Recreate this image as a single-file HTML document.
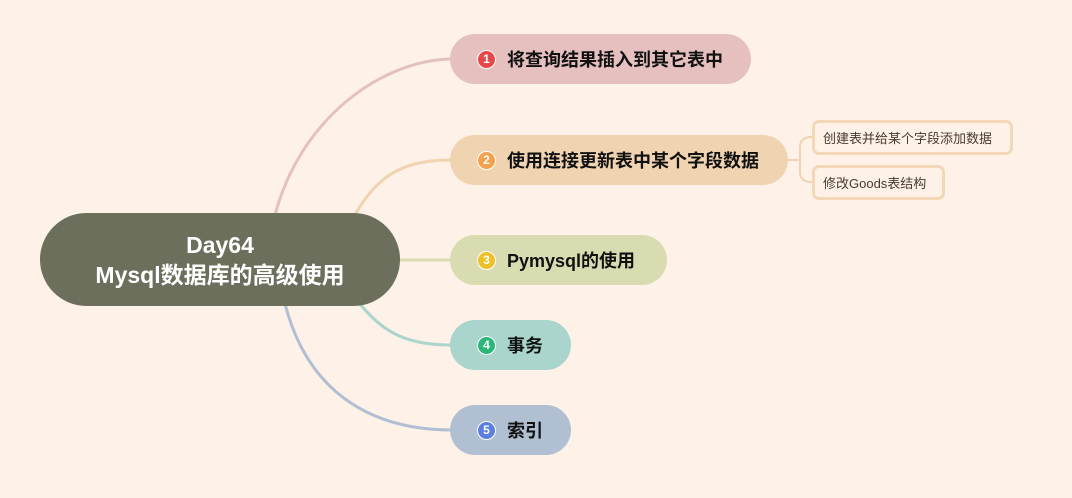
<!DOCTYPE html>
<html><head><meta charset="utf-8"><style>
body{margin:0;width:1072px;height:498px;background:#fdf1e8;position:relative;overflow:hidden;font-family:"Liberation Sans","Noto Sans CJK SC",sans-serif}
.n{position:absolute;height:50px;border-radius:25px;display:flex;align-items:center;font-weight:bold;font-size:18px;color:#111;box-sizing:border-box;padding-left:27px}
.i{width:17px;height:17px;border-radius:50%;border:1.5px solid #fff;color:#fff;font-size:12px;display:flex;align-items:center;justify-content:center;margin-right:11px;box-sizing:content-box}
.s{position:absolute;height:35px;border:3px solid #f3d8b8;border-radius:7px;box-sizing:border-box;font-size:13px;color:#4a3a2a;display:flex;align-items:center;padding-left:8px;background:#fdf1e8}
</style></head><body>
<svg width="1072" height="498" style="position:absolute;left:0;top:0" fill="none" stroke-width="3">
<path d="M275 215 C300 120,380 60,452 59" stroke="#e6c0bf"/>
<path d="M355 215 C380 170,410 160,452 160" stroke="#f0d3b0"/>
<path d="M398 260 L452 260" stroke="#d8dcb0"/>
<path d="M360 304 C385 335,410 345,452 345" stroke="#a9d5cc"/>
<path d="M285 304 C310 400,380 430,452 430" stroke="#b0bfd1"/>
<path d="M786 160 L800 160 M800 147 Q800 137 812 137 M800 147 L800 172 Q800 182 812 182" stroke="#f0d3b0" stroke-width="2"/>
</svg>
<div style="position:absolute;left:40px;top:213px;width:360px;height:93px;border-radius:47px;background:#6b6f5b;color:#fff;font-weight:bold;font-size:23px;text-align:center;line-height:30px;display:flex;flex-direction:column;justify-content:center">Day64<br>Mysql数据库的高级使用</div>
<div class="n" style="left:450px;top:34px;width:301px;background:#e6c0bf"><span class="i" style="background:#e8474a">1</span>将查询结果插入到其它表中</div>
<div class="n" style="left:450px;top:135px;width:338px;background:#f0d3b0"><span class="i" style="background:#f5a04a">2</span>使用连接更新表中某个字段数据</div>
<div class="n" style="left:450px;top:235px;width:217px;background:#d8dcb0"><span class="i" style="background:#eec12a">3</span>Pymysql的使用</div>
<div class="n" style="left:450px;top:320px;width:121px;background:#a9d5cc"><span class="i" style="background:#2bb67a">4</span>事务</div>
<div class="n" style="left:450px;top:405px;width:121px;background:#b0bfd1"><span class="i" style="background:#5b7fe0">5</span>索引</div>
<div class="s" style="left:812px;top:120px;width:201px">创建表并给某个字段添加数据</div>
<div class="s" style="left:812px;top:165px;width:133px">修改Goods表结构</div>
</body></html>
